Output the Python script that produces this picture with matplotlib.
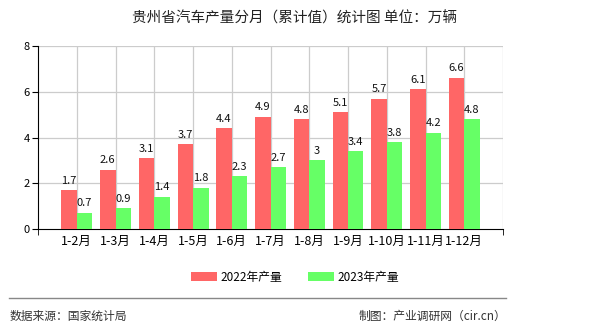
import matplotlib
matplotlib.use("Agg")
import matplotlib.pyplot as plt
import numpy as np

plt.rcParams['font.family'] = ['Noto Sans CJK SC', 'DejaVu Sans']

categories = ["1-2月", "1-3月", "1-4月", "1-5月", "1-6月", "1-7月", "1-8月", "1-9月", "1-10月", "1-11月", "1-12月"]
v2022 = [1.7, 2.6, 3.1, 3.7, 4.4, 4.9, 4.8, 5.1, 5.7, 6.1, 6.6]
v2023 = [0.7, 0.9, 1.4, 1.8, 2.3, 2.7, 3.0, 3.4, 3.8, 4.2, 4.8]
labels2022 = ["1.7", "2.6", "3.1", "3.7", "4.4", "4.9", "4.8", "5.1", "5.7", "6.1", "6.6"]
labels2023 = ["0.7", "0.9", "1.4", "1.8", "2.3", "2.7", "3", "3.4", "3.8", "4.2", "4.8"]
yticks = [0, 2, 4, 6, 8]

fig = plt.figure(figsize=(5.9, 3.3), dpi=100)
ax = fig.add_axes([38/590, 1-229/330, (503-38)/590, (229-46)/330])

x = np.arange(1, len(categories) + 1)
w = 0.4
red = '#FF6666'
green = '#66FF66'
ax.bar(x - w/2, v2022, width=w, color=red, label='2022年产量', zorder=3)
ax.bar(x + w/2, v2023, width=w, color=green, label='2023年产量', zorder=3)

for xi, v, t in zip(x, v2022, labels2022):
    ax.text(xi - w/2, v + 0.2, t, ha='center', va='bottom', fontsize=8, color='#111111', zorder=4)
for xi, v, t in zip(x, v2023, labels2023):
    ax.text(xi + w/2, v + 0.2, t, ha='center', va='bottom', fontsize=8, color='#111111', zorder=4)

ax.set_xlim(0, 12)
ax.set_ylim(0, 8)
ax.set_yticks(yticks)
ax.set_yticklabels([str(t) for t in yticks], fontsize=8)
ax.set_xticks(x)
ax.set_xticklabels(categories, fontsize=9)
ax.set_xticks(np.arange(0, 13), minor=True)
ax.tick_params(axis='x', which='major', length=0, pad=4)
ax.tick_params(axis='x', which='minor', length=4, color='black')
ax.tick_params(axis='y', length=4, pad=2)

for gx in range(1, 13):
    ax.axvline(gx, color='#CCCCCC', lw=0.9, zorder=1)
for gy in yticks[1:]:
    ax.axhline(gy, color='#CCCCCC', lw=0.9, zorder=1)

ax.spines['top'].set_visible(False)
ax.spines['right'].set_visible(False)
ax.spines['left'].set_color('black')
ax.spines['bottom'].set_color('black')

fig.text(0.5, 1-18/330, '贵州省汽车产量分月（累计值）统计图 单位：万辆', ha='center', va='center', fontsize=10.5, color='#222222')

leg = fig.legend(handles=ax.patches[:1] + ax.patches[len(categories):len(categories)+1],
                 labels=['2022年产量', '2023年产量'],
                 loc='center', bbox_to_anchor=(0.5, 1-277/330), ncol=2, frameon=False,
                 fontsize=8.5, handlelength=2.2, handleheight=0.9, columnspacing=2.2, handletextpad=0.3)

fig.add_artist(plt.Line2D([9/590, 506/590], [1-298/330, 1-298/330], color='#888888', lw=1))
fig.text(10/590, 1-316/330, '数据来源：国家统计局', ha='left', va='center', fontsize=8.5, color='#333333')
fig.text(506/590, 1-316/330, '制图：产业调研网（cir.cn）', ha='right', va='center', fontsize=8.5, color='#333333')

fig.savefig('out.png', dpi=100)
